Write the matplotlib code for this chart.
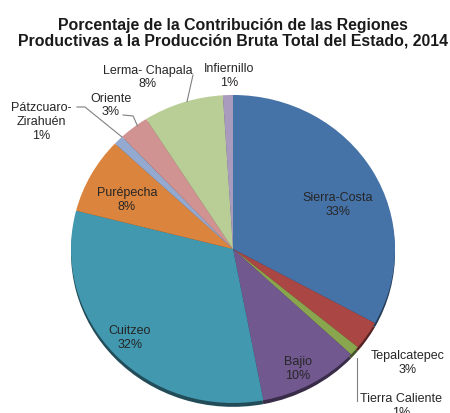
import matplotlib
matplotlib.use('Agg')
import matplotlib.pyplot as plt
from matplotlib.colors import to_rgb

plt.rcParams['font.family'] = ['Liberation Sans', 'DejaVu Sans']

# ---- data ----
regions = ['Sierra-Costa', 'Tepalcatepec', 'Tierra Caliente', 'Bajio', 'Cuitzeo',
           'Purépecha', 'Pátzcuaro-\nZirahuén', 'Oriente', 'Lerma- Chapala', 'Infiernillo']
values = [33, 3, 1, 10, 32, 8, 1, 3, 8, 1]
colors = ['#4572A7', '#AA4643', '#89A54E', '#71588F', '#4198AF',
          '#DB843D', '#93A9CF', '#D19392', '#B9CD96', '#A99BBD']
title = 'Porcentaje de la Contribución de las Regiones\nProductivas a la Producción Bruta Total del Estado, 2014'

# ---- layout (label positions in pie data coords) ----
label_pos = [(0.648, 0.286), (1.080, -0.740), (1.04, -1.019), (0.401, -0.779),
             (-0.636, -0.578), (-0.654, 0.318), (-1.185, 0.825), (-0.753, 0.932),
             (-0.525, 1.114), (-0.025, 1.123)]
leaders = {
    2: [(0.765, -0.708), (0.765, -0.985)],
    6: [(-0.963, 0.922), (-0.914, 0.922), (-0.685, 0.727)],
    7: [(-0.679, 0.870), (-0.617, 0.864), (-0.590, 0.800)],
    8: [(-0.247, 1.130), (-0.284, 0.957)],
}

fig = plt.figure(figsize=(4.5, 4.13), dpi=100)
ax = fig.add_axes([0.1578, 0.0242, 0.72, 0.7458])

dark = [tuple(c * 0.5 for c in to_rgb(col)) for col in colors]
ax.pie(values, colors=dark, startangle=90, counterclock=False, radius=1,
       center=(0, -0.025), wedgeprops=dict(linewidth=0))
ax.pie(values, colors=colors, startangle=90, counterclock=False, radius=1,
       wedgeprops=dict(linewidth=0))
ax.set_aspect('auto')
ax.set_xlim(-1, 1)
ax.set_ylim(-1, 1)
ax.axis('off')

for i, (name, v) in enumerate(zip(regions, values)):
    x, y = label_pos[i]
    ax.text(x, y, f'{name}\n{v}%', ha='center', va='center', fontsize=9,
            color='#262626', linespacing=1.2, clip_on=False)

for i, pts in leaders.items():
    xs = [p[0] for p in pts]
    ys = [p[1] for p in pts]
    ax.plot(xs, ys, color='#808080', lw=0.8, clip_on=False)

fig.text(0.518, 0.920, title, ha='center', va='center', fontsize=11.4,
         fontweight='bold', color='#1a1a1a', linespacing=1.05)

fig.savefig('out.png', dpi=100)
